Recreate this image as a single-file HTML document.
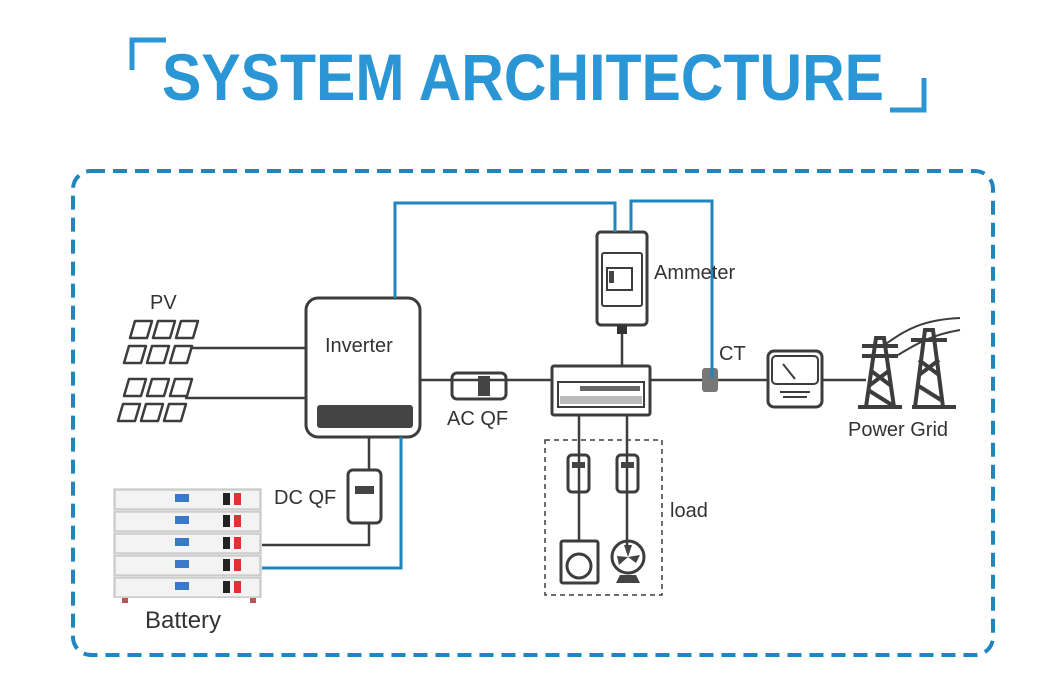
<!DOCTYPE html>
<html><head><meta charset="utf-8"><style>
html,body{margin:0;padding:0;background:#fff;}
svg{display:block;font-family:"Liberation Sans",sans-serif;}
</style></head><body>
<svg width="1060" height="683" viewBox="0 0 1060 683" xmlns="http://www.w3.org/2000/svg">
<!-- title -->
<path d="M132,70 V40 H166" fill="none" stroke="#2a96d6" stroke-width="5"/>
<path d="M924,78 V110 H890" fill="none" stroke="#2a96d6" stroke-width="5"/>
<text x="162" y="100" font-size="66" font-weight="bold" fill="#2a96d6" textLength="722" lengthAdjust="spacingAndGlyphs">SYSTEM ARCHITECTURE</text>
<!-- dashed frame -->
<rect x="73" y="171" width="920" height="484" rx="18" fill="none" stroke="#1f86c0" stroke-width="4" stroke-dasharray="14 8"/>

<g fill="none" stroke="#3d3d3d" stroke-width="3">
<!-- PV panels -->
<g stroke-width="2.5" stroke-linejoin="round">
<path d="M135,321 h17 l-5,17 h-17z M158,321 h17 l-5,17 h-17z M181,321 h17 l-5,17 h-17z"/>
<path d="M129,346 h17 l-5,17 h-17z M152,346 h17 l-5,17 h-17z M175,346 h17 l-5,17 h-17z"/>
<path d="M129,379 h17 l-5,17 h-17z M152,379 h17 l-5,17 h-17z M175,379 h17 l-5,17 h-17z"/>
<path d="M123,404 h17 l-5,17 h-17z M146,404 h17 l-5,17 h-17z M169,404 h17 l-5,17 h-17z"/>
</g>
<line x1="190" y1="348" x2="306" y2="348" stroke-width="2.5"/>
<line x1="185" y1="398" x2="306" y2="398" stroke-width="2.5"/>
<!-- inverter -->
<rect x="306" y="298" width="114" height="139" rx="12"/>
<!-- lines -->
<line x1="420" y1="380" x2="552" y2="380" stroke-width="2.5"/>
<line x1="650" y1="380" x2="767" y2="380" stroke-width="2.5"/>
<line x1="822" y1="380" x2="866" y2="380" stroke-width="2.5"/>
<line x1="622" y1="334" x2="622" y2="366" stroke-width="2.5"/>
<line x1="579" y1="415" x2="579" y2="541" stroke-width="2.5"/>
<line x1="627" y1="415" x2="627" y2="545" stroke-width="2.5"/>
<path d="M369,437 V470 M369,523 V545 H262" stroke-width="2.5"/>
<!-- AC QF -->
<rect x="452" y="373" width="54" height="26" rx="5"/>
<!-- ammeter -->
<rect x="597" y="232" width="50" height="93" rx="4"/>
<rect x="602" y="253" width="40" height="53" rx="2" stroke-width="2"/>
<rect x="607" y="268" width="25" height="22" stroke-width="2"/>
<!-- panel -->
<rect x="552" y="366" width="98" height="49" rx="2"/>
<rect x="558" y="382" width="86" height="25" stroke-width="2"/>
<!-- meter -->
<rect x="768" y="351" width="54" height="56" rx="6"/>
<rect x="772" y="356" width="46" height="28" rx="4" stroke-width="2"/>
<line x1="795" y1="379" x2="783" y2="364" stroke-width="2"/>
<path d="M780,392 h30 M783,397 h24" stroke-width="2"/>
<!-- loads -->
<rect x="545" y="440" width="117" height="155" stroke-width="1.5" stroke-dasharray="5 4"/>
<rect x="568" y="455" width="21" height="37" rx="4"/>
<rect x="617" y="455" width="21" height="37" rx="4"/>
<rect x="561" y="541" width="37" height="42" rx="2"/>
<circle cx="579" cy="566" r="12"/>
<circle cx="628" cy="557" r="16"/>
<!-- DC QF -->
<rect x="348" y="470" width="33" height="53" rx="5"/>
<!-- towers -->
<path d="M866,407 L876,338 L884,338 L894,407 M862,346 h36 M862,356 h36 M870,370 L890,385 M890,370 L870,385 M868,390 L892,405" stroke-width="4"/>
<path d="M915,407 L925,330 L933,330 L943,407 M911,340 h36 M919,360 L939,375 M939,360 L919,375 M917,385 L941,400 M858,407 h44 M912,407 h44" stroke-width="4"/>
<path d="M884,345 C900,335 915,320 960,318 M898,355 C915,345 930,335 960,330" stroke-width="2"/>
</g>
<!-- filled details -->
<rect x="317" y="405" width="96" height="23" rx="3" fill="#444"/>
<rect x="478" y="376" width="12" height="20" fill="#444"/>
<rect x="617" y="325" width="10" height="9" fill="#333"/>
<rect x="609" y="271" width="5" height="12" fill="#444"/>
<rect x="355" y="486" width="19" height="8" fill="#444"/>
<rect x="572" y="462" width="13" height="6" fill="#444"/>
<rect x="621" y="462" width="13" height="6" fill="#444"/>
<rect x="560" y="396" width="82" height="8" fill="#bbb"/>
<rect x="580" y="386" width="60" height="5" fill="#666"/>
<path d="M628,557 l-4,-12 l8,0z M628,557 l12,-2 l-4,8z M628,557 l-9,8 l-2,-9z" fill="#444"/>
<path d="M616,583 h24 l-4,-8 h-16z" fill="#444"/>
<rect x="702" y="368" width="16" height="24" rx="3" fill="#777"/>
<!-- blue wires -->
<g fill="none" stroke="#1f86c0" stroke-width="3">
<path d="M395,298 V203 H615 V232"/>
<path d="M631,232 V201 H712 V378"/>
<path d="M401,437 V568 H262"/>
</g>
<!-- battery -->
<g>
<rect x="113" y="488" width="149" height="110" fill="#ddd"/>
<g fill="#f3f3f3" stroke="#bbb" stroke-width="1">
<rect x="115" y="490" width="145" height="19"/>
<rect x="115" y="512" width="145" height="19"/>
<rect x="115" y="534" width="145" height="19"/>
<rect x="115" y="556" width="145" height="19"/>
<rect x="115" y="578" width="145" height="19"/>
</g>
<g fill="#3a78c8"><rect x="175" y="494" width="14" height="8"/><rect x="175" y="516" width="14" height="8"/><rect x="175" y="538" width="14" height="8"/><rect x="175" y="560" width="14" height="8"/><rect x="175" y="582" width="14" height="8"/></g>
<g fill="#222"><rect x="223" y="493" width="7" height="12"/><rect x="223" y="515" width="7" height="12"/><rect x="223" y="537" width="7" height="12"/><rect x="223" y="559" width="7" height="12"/><rect x="223" y="581" width="7" height="12"/></g>
<g fill="#d33"><rect x="234" y="493" width="7" height="12"/><rect x="234" y="515" width="7" height="12"/><rect x="234" y="537" width="7" height="12"/><rect x="234" y="559" width="7" height="12"/><rect x="234" y="581" width="7" height="12"/></g>
<rect x="122" y="598" width="6" height="5" fill="#b55"/><rect x="250" y="598" width="6" height="5" fill="#b55"/>
</g>
<!-- labels -->
<g fill="#333" font-size="20">
<text x="150" y="309">PV</text>
<text x="325" y="352">Inverter</text>
<text x="447" y="425">AC QF</text>
<text x="654" y="279">Ammeter</text>
<text x="719" y="360">CT</text>
<text x="848" y="436">Power Grid</text>
<text x="670" y="517">load</text>
<text x="274" y="504">DC QF</text>
<text x="145" y="628" font-size="24">Battery</text>
</g>
</svg>
</body></html>
